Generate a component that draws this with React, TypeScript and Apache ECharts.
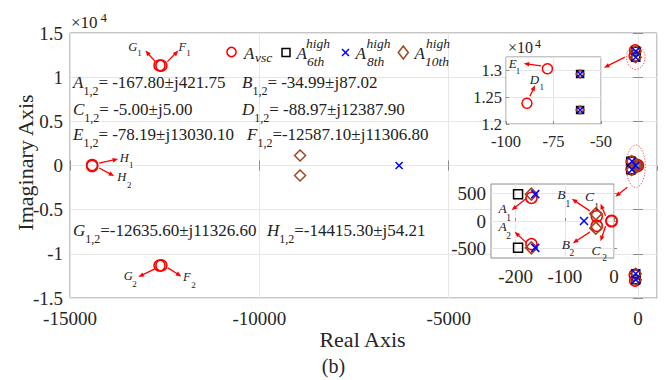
import React, { useEffect, useRef } from "react";
import * as echarts from "echarts";

const FONT = '"Liberation Serif", "Times New Roman", Times, serif';

// ---------- data ----------
const vscPoints: [number, number][] = [
  [-167.8, 421.75], [-167.8, -421.75],
  [-34.99, 87.02], [-34.99, -87.02],
  [-5.0, 5.0], [-5.0, -5.0],
  [-88.97, 12387.9], [-88.97, -12387.9],
  [-78.19, 13030.1], [-78.19, -13030.1],
  [-12587.1, 11306.8], [-12587.1, -11306.8],
  [-12635.6, 11326.6], [-12635.6, -11326.6],
  [-14415.3, 54.21], [-14415.3, -54.21],
];
const sixthPoints: [number, number][] = [
  [-195, 490], [-195, -490],
  [-61, 12933], [-61, -12933], [-61, 12261], [-61, -12261],
];
const eighthPoints: [number, number][] = [
  [-160, 490], [-160, -490], [-61, 0], [-6310, 0],
  [-61, 12933], [-61, -12933], [-61, 12261], [-61, -12261],
];
const tenthPoints: [number, number][] = [
  [-168, 490], [-168, -490], [-37, 130], [-37, -130],
  [-8925, 1130], [-8925, -1130],
  [-61, 12933], [-61, -12933], [-61, 12261], [-61, -12261],
];

const eigenLetters = ["A", "B", "C", "D", "E", "F", "G", "H"];
const eigenValues = [
  "= -167.80±j421.75",
  "= -34.99±j87.02",
  "= -5.00±j5.00",
  "= -88.97±j12387.90",
  "= -78.19±j13030.10",
  "=-12587.10±j11306.80",
  "=-12635.60±j11326.60",
  "=-14415.30±j54.21",
];

const inset2XTicks = [-200, -100, 0];
const inset2YTicks = [-500, 0, 500];

// ---------- layout / style ----------
const RED = "#ff0000";
const BROWN = "#a0461e";
const BLUE = "#0000ff";
const BLACK = "#000000";
const AXIS_GRAY = "#8c8c8c";
const GRID_GRAY = "#e6e6e6";
const LABEL = "#262626";

// grid index -> [xAxisIndex, yAxisIndex]
const AXES: [number, number][] = [[0, 0], [2, 2], [3, 3]];

const markerDefs = [
  { data: vscPoints, symbol: "circle", color: RED, sizes: [11, 10, 11] },
  { data: sixthPoints, symbol: "rect", color: BLACK, sizes: [8, 7, 9] },
  { data: tenthPoints, symbol: "diamond", color: BROWN, sizes: [11, 8, 12] },
  { data: eighthPoints, symbol: "path://M0,0L10,10M10,0L0,10", color: BLUE, sizes: [7, 6, 8] },
];

const labelStyle = (size: number) => ({
  fontFamily: FONT,
  fontSize: size,
  color: LABEL,
});

const tickInside = { show: true, inside: true, length: 5, lineStyle: { color: AXIS_GRAY } };

function buildOption(): any {
  const series: any[] = [];
  [0, 1, 2].forEach((g) => {
    markerDefs.forEach((m) => {
      series.push({
        type: "scatter",
        xAxisIndex: AXES[g][0],
        yAxisIndex: AXES[g][1],
        data: m.data,
        symbol: m.symbol,
        symbolSize: m.sizes[g],
        clip: true,
        silent: true,
        z: g === 0 ? 2 : 7,
        itemStyle: { color: "rgba(0,0,0,0)", borderColor: m.color, borderWidth: 1.5, opacity: 1 },
        emphasis: { disabled: true },
      });
    });
  });

  return {
    animation: false,
    backgroundColor: "#ffffff",
    grid: [
      { left: 70, top: 33, width: 587, height: 265, show: true, borderColor: AXIS_GRAY, borderWidth: 1, backgroundColor: "transparent", z: 0 },
      { left: 506, top: 57, width: 95, height: 67, show: true, borderColor: AXIS_GRAY, borderWidth: 1, backgroundColor: "#ffffff", z: 5 },
      { left: 491, top: 184, width: 123, height: 74, show: true, borderColor: AXIS_GRAY, borderWidth: 1, backgroundColor: "#ffffff", z: 5 },
    ],
    xAxis: [
      {
        gridIndex: 0, type: "value", position: "bottom", min: -15000, max: 500, interval: 5000,
        axisLine: { show: false }, axisTick: tickInside,
        splitLine: { show: true, lineStyle: { color: GRID_GRAY } },
        axisLabel: { ...labelStyle(19), margin: 11, showMaxLabel: false, formatter: (v: number) => String(v) },
      },
      {
        gridIndex: 0, type: "value", position: "top", min: -15000, max: 500, interval: 5000,
        axisLine: { show: false }, axisTick: tickInside, splitLine: { show: false }, axisLabel: { show: false },
      },
      {
        gridIndex: 1, type: "value", min: -100, max: -50, interval: 25, z: 6,
        axisLine: { show: false }, axisTick: { ...tickInside, length: 3 },
        splitLine: { show: true, lineStyle: { color: GRID_GRAY } },
        axisLabel: { ...labelStyle(16.5), margin: 9, formatter: (v: number) => String(v) },
      },
      {
        gridIndex: 2, type: "value", min: -250, max: 0, interval: 50, z: 6,
        axisLine: { show: false },
        axisTick: { ...tickInside, length: 3, customValues: inset2XTicks },
        splitLine: { show: true, lineStyle: { color: GRID_GRAY } },
        axisLabel: { ...labelStyle(19), margin: 9, customValues: inset2XTicks, formatter: (v: number) => String(v) },
      },
    ],
    yAxis: [
      {
        gridIndex: 0, type: "value", position: "left", min: -15000, max: 15000, interval: 5000,
        axisLine: { show: false }, axisTick: tickInside,
        splitLine: { show: true, lineStyle: { color: GRID_GRAY } },
        axisLabel: { ...labelStyle(19), margin: 7, formatter: (v: number) => String(v / 10000) },
      },
      {
        gridIndex: 0, type: "value", position: "right", min: -15000, max: 15000, interval: 5000,
        axisLine: { show: false }, axisTick: tickInside, splitLine: { show: false }, axisLabel: { show: false },
      },
      {
        gridIndex: 1, type: "value", min: 12000, max: 13250, interval: 500, z: 6,
        axisLine: { show: false }, axisTick: { ...tickInside, length: 3 },
        splitLine: { show: true, lineStyle: { color: GRID_GRAY } },
        axisLabel: { ...labelStyle(16.5), margin: 4, showMaxLabel: false, formatter: (v: number) => String(v / 10000) },
      },
      {
        gridIndex: 2, type: "value", min: -675, max: 675, interval: 125, z: 6,
        axisLine: { show: false },
        axisTick: { ...tickInside, length: 3, customValues: inset2YTicks },
        splitLine: { show: true, lineStyle: { color: GRID_GRAY } },
        axisLabel: { ...labelStyle(19), margin: 5, customValues: inset2YTicks, formatter: (v: number) => String(v) },
      },
    ],
    series,
  };
}

// ---------- annotations (anchor in data space, offsets in px) ----------
type Ann = {
  g: number;
  at: [number, number];
  from: [number, number];
  to: [number, number];
  letter: string;
  sub: string;
  lp: [number, number];
  sp: [number, number];
  fs: number;
  ss: number;
};

const annotations: Ann[] = [
  { g: 0, at: [-12587.1, 11306.8], from: [-6, -4], to: [-16, -15], letter: "G", sub: "1", lp: [-28.5, -19], sp: [-22, -13], fs: 12.5, ss: 9 },
  { g: 0, at: [-12587.1, 11306.8], from: [6, -4], to: [17, -15], letter: "F", sub: "1", lp: [21, -18.5], sp: [27, -13], fs: 12.5, ss: 9 },
  { g: 0, at: [-14415.3, 54.21], from: [7, -2], to: [26, -6], letter: "H", sub: "1", lp: [32, -7.5], sp: [39, 0], fs: 12.5, ss: 9 },
  { g: 0, at: [-14415.3, 54.21], from: [7, 3], to: [22, 11], letter: "H", sub: "2", lp: [29.5, 12], sp: [37, 19.5], fs: 12.5, ss: 9 },
  { g: 0, at: [-12587.1, -11306.8], from: [-6.5, 3.5], to: [-23, 11.5], letter: "G", sub: "2", lp: [-33, 10.5], sp: [-27, 19], fs: 12.5, ss: 9 },
  { g: 0, at: [-12587.1, -11306.8], from: [6.5, 2.5], to: [20, 11], letter: "F", sub: "2", lp: [25.5, 11.5], sp: [32, 19.5], fs: 12.5, ss: 9 },
  { g: 1, at: [-78.19, 13030.1], from: [-6.3, -3], to: [-23.7, -5.3], letter: "E", sub: "1", lp: [-34.7, -5], sp: [-29.5, 2.5], fs: 13, ss: 9 },
  { g: 1, at: [-88.97, 12387.9], from: [3, -7], to: [8, -18], letter: "D", sub: "1", lp: [7.5, -23.5], sp: [14.7, -16], fs: 13, ss: 9 },
  { g: 2, at: [-168, 490], from: [-4.7, 4], to: [-19.7, 16], letter: "A", sub: "1", lp: [-28.7, 14.5], sp: [-22.7, 24], fs: 13.5, ss: 9.5 },
  { g: 2, at: [-168, -490], from: [-4.7, -5], to: [-16.7, -16], letter: "A", sub: "2", lp: [-28.7, -21], sp: [-22.7, -12], fs: 13.5, ss: 9.5 },
  { g: 2, at: [-37, 130], from: [-6, -3], to: [-24, -15], letter: "B", sub: "1", lp: [-34.5, -19], sp: [-28, -10], fs: 13.5, ss: 9.5 },
  { g: 2, at: [-37, -130], from: [-6, 4], to: [-23, 15], letter: "B", sub: "2", lp: [-30, 16.5], sp: [-24, 25], fs: 13.5, ss: 9.5 },
  { g: 2, at: [-5, 5], from: [-6, -5], to: [-11, -17], letter: "C", sub: "1", lp: [-22, -24], sp: [-15, -14], fs: 13.5, ss: 9.5 },
  { g: 2, at: [-5, -5], from: [-6, 5], to: [-11, 20], letter: "C", sub: "2", lp: [-15.5, 29.5], sp: [-7, 37], fs: 13.5, ss: 9.5 },
];

const ellipses = [
  { at: [-61, 12261] as [number, number], off: [0, 0], rx: 9.2, ry: 12.2, from: [-10.8, 0], to: [-31.8, 10.5] },
  { at: [-60, 0] as [number, number], off: [0, 0.7], rx: 9.5, ry: 21.2, from: [-8.5, 21], to: [-20.5, 30.5] },
];

const rowLayout = [
  { x: 73, base: 88 }, { x: 242, base: 88 },
  { x: 73, base: 115 }, { x: 242, base: 115 },
  { x: 73, base: 140.5 }, { x: 247, base: 140.5 },
  { x: 73, base: 236 }, { x: 267, base: 236 },
];

function text(x: number, y: number, str: string, size: number, o: any = {}) {
  return {
    type: "text",
    x, y, z: 30, silent: true,
    rotation: o.rotation || 0,
    style: {
      text: str,
      fontFamily: FONT,
      fontSize: size,
      fontStyle: o.italic ? "italic" : "normal",
      fill: o.color || LABEL,
      align: o.align || "left",
      verticalAlign: "middle",
      textAlign: o.align || "left",
      textVerticalAlign: "middle",
    },
  };
}
// place by alphabetic baseline
const tb = (x: number, base: number, str: string, size: number, o: any = {}) =>
  text(x, base - 0.3375 * size, str, size, o);

function arrow(x1: number, y1: number, x2: number, y2: number) {
  const dx = x2 - x1, dy = y2 - y1;
  const len = Math.hypot(dx, dy) || 1;
  const ux = dx / len, uy = dy / len;
  const L = 5.5, W = 2.3;
  const bx = x2 - ux * L, by = y2 - uy * L;
  return [
    { type: "line", z: 25, silent: true, shape: { x1, y1, x2: bx + ux, y2: by + uy }, style: { stroke: RED, lineWidth: 1.3 } },
    { type: "polygon", z: 25, silent: true, shape: { points: [[x2, y2], [bx - uy * W, by + ux * W], [bx + uy * W, by - ux * W]] }, style: { fill: RED, stroke: "none" } },
  ];
}

function buildGraphics(chart: any) {
  const els: any[] = [];
  const px = (g: number, pt: [number, number]) =>
    chart.convertToPixel({ xAxisIndex: AXES[g][0], yAxisIndex: AXES[g][1] }, pt) as number[];

  // annotation arrows + labels
  annotations.forEach((a) => {
    const [cx, cy] = px(a.g, a.at);
    els.push(...arrow(cx + a.from[0], cy + a.from[1], cx + a.to[0], cy + a.to[1]));
    els.push(text(cx + a.lp[0], cy + a.lp[1], a.letter, a.fs, { italic: true, align: "center", color: "#222" }));
    els.push(text(cx + a.sp[0], cy + a.sp[1], a.sub, a.ss, { align: "center", color: "#222" }));
  });

  // dotted ellipses with arrows to insets
  ellipses.forEach((e) => {
    const [cx0, cy0] = px(0, e.at);
    const cx = cx0 + e.off[0], cy = cy0 + e.off[1];
    els.push({
      type: "ellipse", z: 25, silent: true,
      shape: { cx, cy, rx: e.rx, ry: e.ry },
      style: { fill: "none", stroke: "#ff2a2a", lineWidth: 1, lineDash: [1.2, 1.6], opacity: 0.85 },
    });
    els.push(...arrow(cx + e.from[0], cy + e.from[1], cx + e.to[0], cy + e.to[1]));
  });

  // eigenvalue table text
  eigenLetters.forEach((L, i) => {
    const r = rowLayout[i];
    els.push({
      type: "text", x: r.x, y: r.base + 8.76, z: 30, silent: true,
      style: {
        text: `{i|${L}}{s|1,2}{n|${eigenValues[i]}}`,
        align: "left", verticalAlign: "bottom", textAlign: "left", textVerticalAlign: "bottom",
        fill: "#222",
        rich: {
          i: { fontFamily: FONT, fontSize: 17, fontStyle: "italic", fill: "#222", verticalAlign: "bottom", padding: [0, 0, 6, 0] },
          s: { fontFamily: FONT, fontSize: 12, fill: "#222", verticalAlign: "bottom" },
          n: { fontFamily: FONT, fontSize: 17, fill: "#222", verticalAlign: "bottom", padding: [0, 0, 6, 0] },
        },
      },
    });
  });

  // legend
  els.push({ type: "circle", z: 30, silent: true, shape: { cx: 231.5, cy: 52, r: 4.6 }, style: { fill: "none", stroke: RED, lineWidth: 1.5 } });
  els.push({ type: "rect", z: 30, silent: true, shape: { x: 282, y: 48.5, width: 8, height: 8 }, style: { fill: "none", stroke: BLACK, lineWidth: 1.5 } });
  els.push({ type: "line", z: 30, silent: true, shape: { x1: 342, y1: 49, x2: 349, y2: 56 }, style: { stroke: BLUE, lineWidth: 1.5 } });
  els.push({ type: "line", z: 30, silent: true, shape: { x1: 349, y1: 49, x2: 342, y2: 56 }, style: { stroke: BLUE, lineWidth: 1.5 } });
  els.push({ type: "polygon", z: 30, silent: true, shape: { points: [[403.3, 46], [408.3, 52.5], [403.3, 59], [398.3, 52.5]] }, style: { fill: "none", stroke: BROWN, lineWidth: 1.5 } });

  const legA = [244, 296.5, 355.5, 414.5];
  legA.forEach((x) => els.push(tb(x, 59, "A", 17, { italic: true, color: "#222" })));
  els.push(tb(255, 62, "vsc", 13.5, { italic: true, color: "#222" }));
  const supX = [306, 366.5, 426];
  const subX = [307, 367, 425];
  const subs = ["6th", "8th", "10th"];
  supX.forEach((x, i) => {
    els.push(tb(x, 48, "high", 13.5, { italic: true, color: "#222" }));
    els.push(tb(subX[i], 66, subs[i], 13.5, { italic: true, color: "#222" }));
  });

  // exponent markers
  els.push(tb(71, 28.3, "×10", 17));
  els.push(tb(100.5, 21.5, "4", 13));
  els.push(tb(508, 53.3, "×10", 16));
  els.push(tb(535, 48.5, "4", 12));

  // axis titles
  els.push(text(362.5, 339.6, "Real Axis", 22, { align: "center" }));
  els.push(text(25.6, 162.5, "Imaginary Axis", 22, { align: "center", rotation: Math.PI / 2 }));
  els.push(text(333.5, 366, "(b)", 20, { align: "center" }));

  return els;
}

export default function App() {
  const ref = useRef<HTMLDivElement>(null);
  useEffect(() => {
    document.body.style.margin = "0";
    const chart = echarts.init(ref.current!, undefined, { renderer: "svg" });
    chart.setOption(buildOption());
    chart.setOption({ graphic: { elements: buildGraphics(chart) } });
    return () => chart.dispose();
  }, []);
  return (
    <div
      ref={ref}
      style={{ position: "fixed", left: 0, top: 0, width: 672, height: 380, background: "#fff" }}
    />
  );
}
